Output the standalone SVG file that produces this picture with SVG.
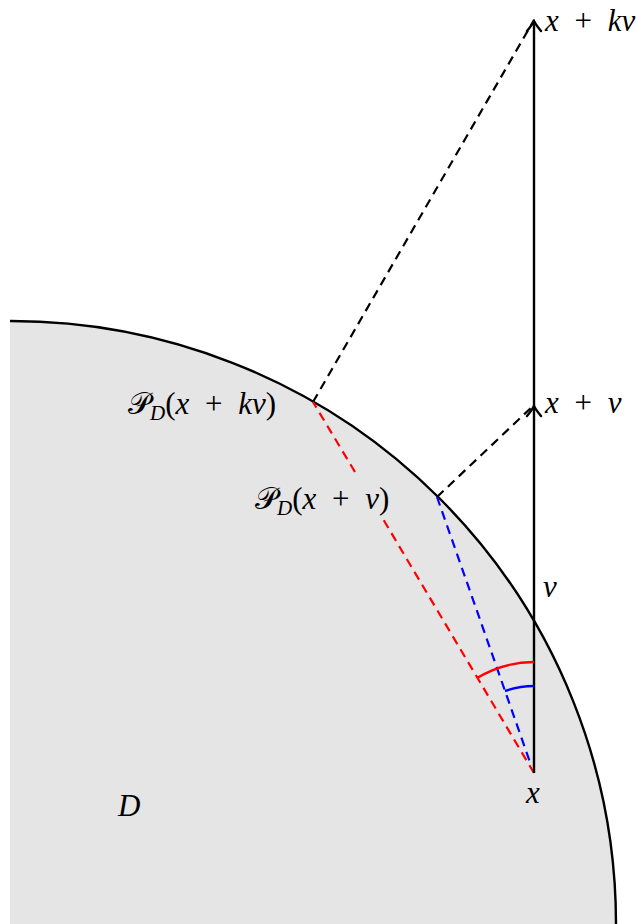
<svg xmlns="http://www.w3.org/2000/svg" width="636" height="924" viewBox="0 0 636 924">
<style>
.lbl{font-family:"Liberation Serif","DejaVu Serif",serif;font-size:31px;fill:#000;word-spacing:8px}
.it{font-style:italic}
.dash{fill:none;stroke-width:2.2;stroke-dasharray:9 6}
.arc{fill:none;stroke-width:2.4}
</style>
<defs>
<marker id="arr" viewBox="-12 -10 14 20" markerWidth="14" markerHeight="20" refX="0" refY="0" orient="auto" markerUnits="userSpaceOnUse">
<path d="M-10,-7 Q-4,-2 0,0 Q-4,2 -10,7" fill="none" stroke="#000" stroke-width="2.4" stroke-linecap="round"/>
</marker>
</defs>
<g id="region-D">
<path d="M10,924 L10,321 A605,603 0 0 1 616,924 Z" fill="#e5e5e5"/>
<path d="M10,321 A605,603 0 0 1 616,924" fill="none" stroke="#000" stroke-width="2.4"/>
</g>
<g id="connectors">
<line x1="313" y1="402" x2="534" y2="20" class="dash" stroke="#000"/>
<line x1="437" y1="497" x2="534" y2="405" class="dash" stroke="#000"/>
<line x1="534" y1="773" x2="383" y2="519" class="dash" stroke="#ff0000"/>
<line x1="355" y1="472" x2="313" y2="402" class="dash" stroke="#ff0000"/>
<line x1="437" y1="497" x2="531" y2="765" class="dash" stroke="#0000ff"/>
<line x1="534" y1="773" x2="534" y2="406" stroke="#000" stroke-width="2.4" marker-end="url(#arr)"/>
<line x1="534" y1="406" x2="534" y2="21" stroke="#000" stroke-width="2.4" marker-end="url(#arr)"/>
<path d="M534,662 A111,111 0 0 0 477,678" class="arc" stroke="#ff0000"/>
<path d="M534,686 A87,87 0 0 0 505,691" class="arc" stroke="#0000ff"/>
</g>
<g id="label-xkv"><text x="545" y="31" class="lbl"><tspan class="it">x</tspan> + <tspan class="it">kv</tspan></text></g>
<g id="label-xv"><text x="545" y="413" class="lbl"><tspan class="it">x</tspan> + <tspan class="it">v</tspan></text></g>
<g id="label-v"><text x="543" y="597" class="lbl it">v</text></g>
<g id="label-x"><text x="526" y="803" class="lbl it">x</text></g>
<g id="label-D"><text x="118" y="816" class="lbl it">D</text></g>
<g id="label-PDkv"><text x="128" y="414" class="lbl">𝒫<tspan class="it" font-size="21" dy="6">D</tspan><tspan dy="-6">(</tspan><tspan class="it">x</tspan> + <tspan class="it">kv</tspan>)</text></g>
<g id="label-PDv"><text x="255" y="509" class="lbl">𝒫<tspan class="it" font-size="21" dy="6">D</tspan><tspan dy="-6">(</tspan><tspan class="it">x</tspan> + <tspan class="it">v</tspan>)</text></g>
</svg>
